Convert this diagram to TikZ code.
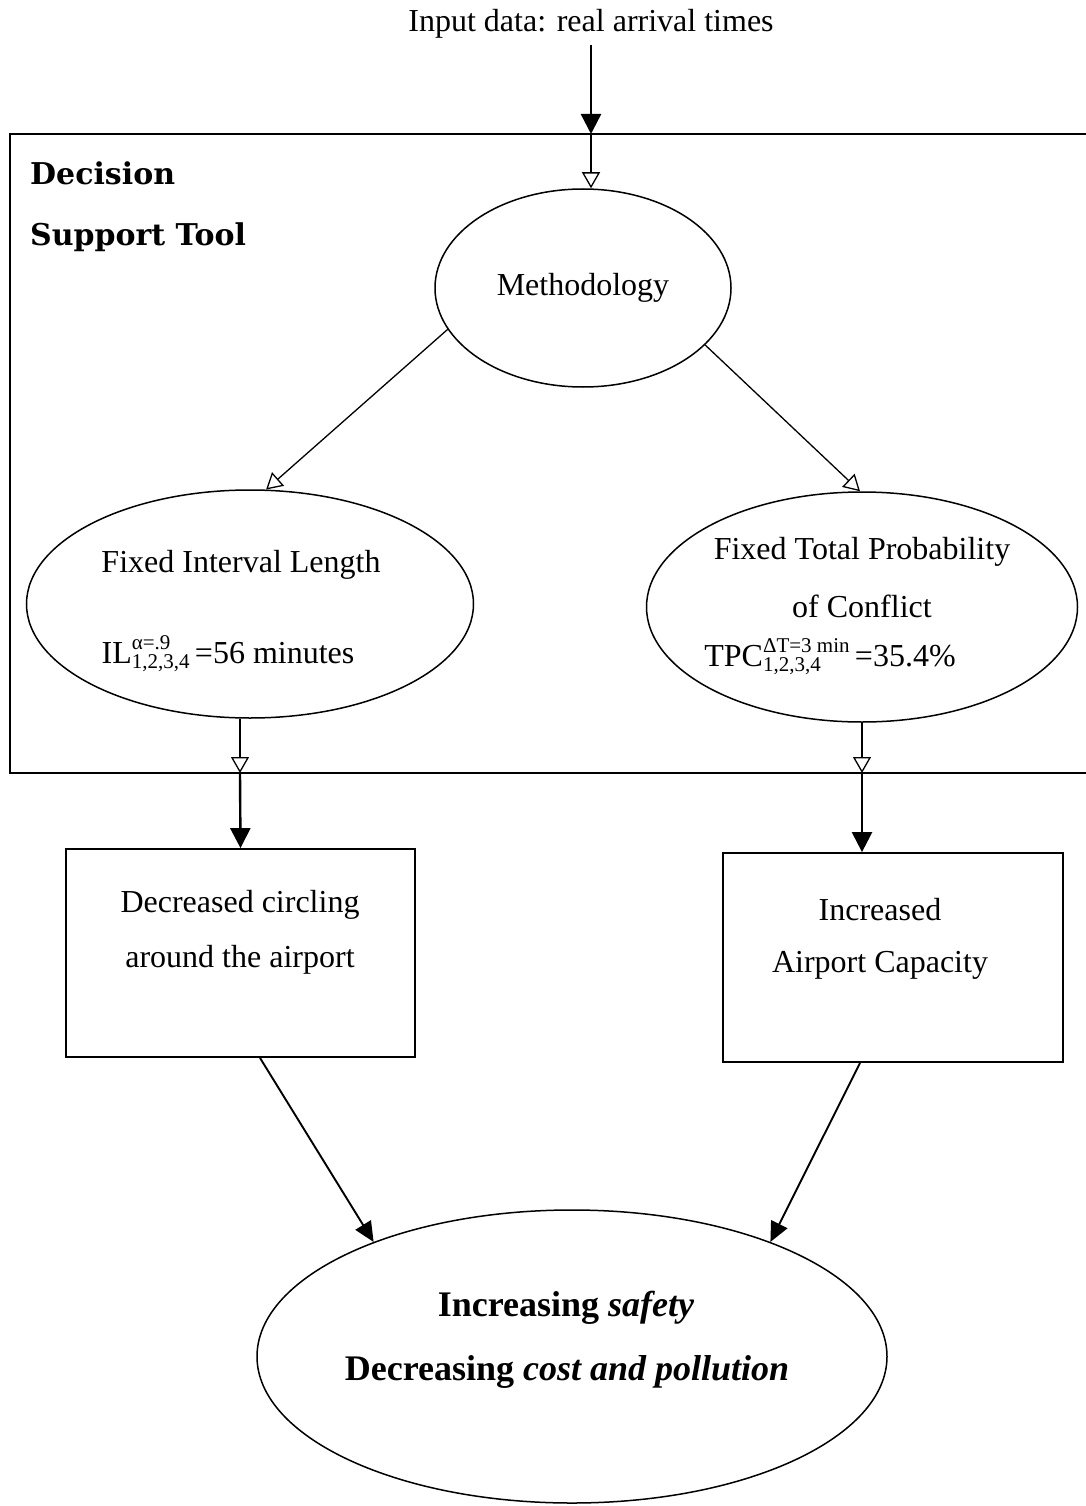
\documentclass[tikz,border=0pt]{standalone}
\usepackage{fontspec}
\setmainfont{Liberation Serif}
\newfontfamily\dsfont{DejaVu Serif}
\usetikzlibrary{shapes.geometric,arrows.meta}
\newcommand\supsub[2]{\raisebox{-5pt}{\fontsize{21}{19}\selectfont\begin{tabular}[b]{@{}l@{}}#1\\#2\end{tabular}}}
\begin{document}
\begin{tikzpicture}[x=1pt,y=-1pt,
  txt/.style={font=\fontsize{32}{38}\selectfont, inner sep=0pt},
  dstxt/.style={font=\fontsize{30}{36}\selectfont\dsfont\bfseries, inner sep=0pt},
  bigtxt/.style={font=\fontsize{36}{42}\selectfont\bfseries, inner sep=0pt},
  oval/.style={ellipse, draw, line width=1.5pt, inner sep=0pt},
  box/.style={rectangle, draw, line width=1.8pt, inner sep=0pt},
  openarr/.style={line width=1.3pt, -{Triangle[open,length=16pt,width=18pt]}},
  fillarr/.style={line width=2.4pt, -{Triangle[length=20pt,width=20pt]}},
  thinfill/.style={line width=1.9pt, -{Triangle[length=20pt,width=18pt]}},
  frameline/.style={line width=1.6pt}
]
\useasboundingbox (0,0) rectangle (1086,1506);

% frame of the decision support tool
\draw[frameline] (1086,134) -- (10,134) -- (10,773) -- (1086,773);
\coordinate (ft) at (591,134);
\coordinate (fl) at (240,773);
\coordinate (fr) at (862,773);
\coordinate (xL) at (260,0);
\coordinate (xR) at (860,0);

\node[dstxt, anchor=west] (dec1) at (30,173) {Decision};
\node[dstxt, anchor=west] (dec2) at (30,237) {Support Tool};

\node[txt] (input) at (591,24) {Input data: real arrival times};

\node[oval, minimum width=296pt, minimum height=198pt, txt] (meth) at (583,288) {Methodology};

\node[oval, minimum width=447pt, minimum height=228pt] (left) at (250,604) {};
\node[txt] (l1) at (241,565) {Fixed Interval Length};
\node[txt] (l2) at (228,655) {IL\supsub{α=.9}{1,2,3,4}\,=56 minutes};

\node[oval, minimum width=431pt, minimum height=230pt] (right) at (862,607) {};
\node[txt] (r1) at (862,552) {Fixed Total Probability};
\node[txt] (r2) at (862,606) {of Conflict};
\node[txt] (r3) at (830,658) {TPC\supsub{ΔT=3 min}{1,2,3,4}\,=35.4\%};

\node[box, minimum width=349pt, minimum height=208pt] (boxL) at (240.5,953) {};
\node[txt] (bl1) at (240,905) {Decreased circling};
\node[txt] (bl2) at (240,960) {around the airport};

\node[box, minimum width=340pt, minimum height=209pt] (boxR) at (893,957.5) {};
\node[txt] (br1) at (880,910) {Increased};
\node[txt] (br2) at (880,965) {Airport Capacity};

\node[oval, minimum width=630pt, minimum height=293pt] (bottom) at (572,1356.5) {};
\node[bigtxt] (b1) at (566,1308) {Increasing \textit{safety}};
\node[bigtxt] (b2) at (567,1372) {Decreasing \textit{cost and pollution}};

% connectors
\draw[fillarr, shorten <=6pt] (input) -- (ft);
\draw[openarr] (ft) -- (meth.north -| ft);
\draw[openarr] (meth.197) -- (left.82);
\draw[openarr] (meth.335) -- (right.91);
\draw[openarr] (left.south -| fl) -- (fl);
\draw[fillarr] (fl) -- (boxL.north);
\draw[openarr] (right.south) -- (fr);
\draw[fillarr] (fr) -- (boxR.north -| fr);
\draw[thinfill] (boxL.south -| xL) -- (bottom.150);
\draw[thinfill] (boxR.south -| xR) -- (bottom.30);
\end{tikzpicture}
\end{document}
